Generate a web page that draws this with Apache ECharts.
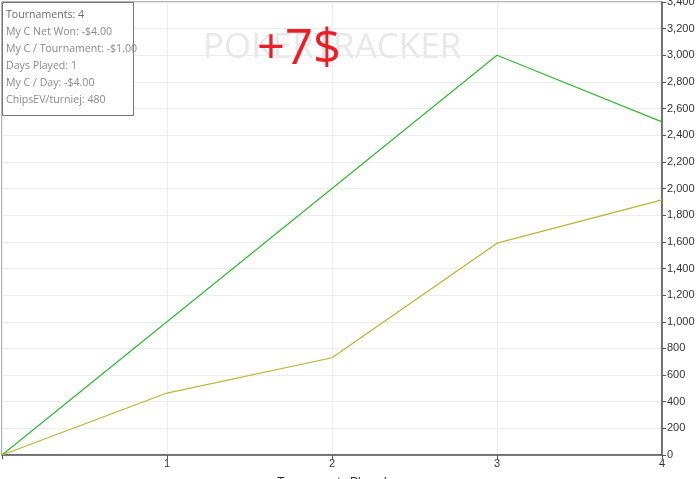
<!DOCTYPE html>
<html>
<head>
<meta charset="utf-8">
<script src="https://cdn.jsdelivr.net/npm/echarts@6/dist/echarts.min.js"></script>
<style>html,body{margin:0;padding:0;background:#fff}#c{width:700px;height:479px}</style>
</head>
<body>
<div id="c"></div>
<script>
var xValues = [0, 1, 2, 3, 4];
var greenValues = [0, 1000, 2000, 3000, 2500];
var yellowValues = [0, 465, 730, 1590, 1915];
var statLines = [
  'Tournaments: 4',
  'My C Net Won: -$4.00',
  'My C / Tournament: -$1.00',
  'Days Played: 1',
  'My C / Day: -$4.00',
  'ChipsEV/turniej: 480'
];
var xAxisName = 'Tournaments Played';
var overlayText = '+7$';
var watermark = 'POKERTRACKER';

function pairs(xs, ys) { return xs.map(function (x, i) { return [x, ys[i]]; }); }

var chart = echarts.init(document.getElementById('c'));
var font = '"Liberation Sans", Arial, sans-serif';
var statGraphics = statLines.map(function (t, i) {
  return {
    type: 'text', left: 6, top: 9 + i * 17, z: 101,
    style: { text: t, fill: i === 0 ? '#6a6a6a' : '#8a8a8a', font: '10.6px "Open Sans", sans-serif' }
  };
});
chart.setOption({
  animation: false,
  backgroundColor: '#fff',
  grid: { left: 2, right: 38, top: 2, bottom: 24, show: true, borderColor: '#666', borderWidth: 1,
    containLabel: false, outerBoundsMode: 'none' },
  xAxis: {
    type: 'value', min: 0, max: 4, interval: 1,
    name: xAxisName, nameLocation: 'middle', nameGap: 22,
    nameTextStyle: { fontFamily: font, fontSize: 12, color: '#333', verticalAlign: 'top' },
    axisLine: { show: true, onZero: false, lineStyle: { color: '#555', width: 1.5 } },
    axisTick: { show: true, length: 4, lineStyle: { color: '#555' } },
    axisLabel: { fontFamily: font, fontSize: 11, color: '#333', margin: 3,
      formatter: function (v) { return v === 0 ? '' : String(v); } },
    splitLine: { show: true, lineStyle: { color: '#ececec' } }
  },
  yAxis: {
    type: 'value', position: 'right', min: 0, max: 3400, interval: 200,
    axisLine: { show: true, onZero: false, lineStyle: { color: '#555', width: 1.5 } },
    axisTick: { show: true, length: 4, lineStyle: { color: '#555' } },
    axisLabel: { fontFamily: font, fontSize: 11, color: '#333', margin: 5,
      formatter: function (v) { return v.toLocaleString('en-US'); } },
    splitLine: { show: true, lineStyle: { color: '#ececec' } }
  },
  graphic: [
    { type: 'text', left: 203, top: 31, z: 5,
      style: { text: watermark, fill: '#e8e8e8', font: '500 35px "Open Sans", sans-serif' } },
    { type: 'text', left: 257, top: 26, z: 50,
      style: { text: overlayText, fill: '#ee1c24', font: '49px "Open Sans", sans-serif' } },
    { type: 'rect', left: 2, top: 2, z: 100,
      shape: { width: 131, height: 113 },
      style: { fill: '#fff', stroke: '#777', lineWidth: 1 } }
  ].concat(statGraphics),
  series: [
    { type: 'line', data: pairs(xValues, greenValues), symbol: 'none',
      lineStyle: { color: '#33b833', width: 1.2 } },
    { type: 'line', data: pairs(xValues, yellowValues), symbol: 'none',
      lineStyle: { color: '#b8b530', width: 1.2 } }
  ]
});
</script>
</body>
</html>
